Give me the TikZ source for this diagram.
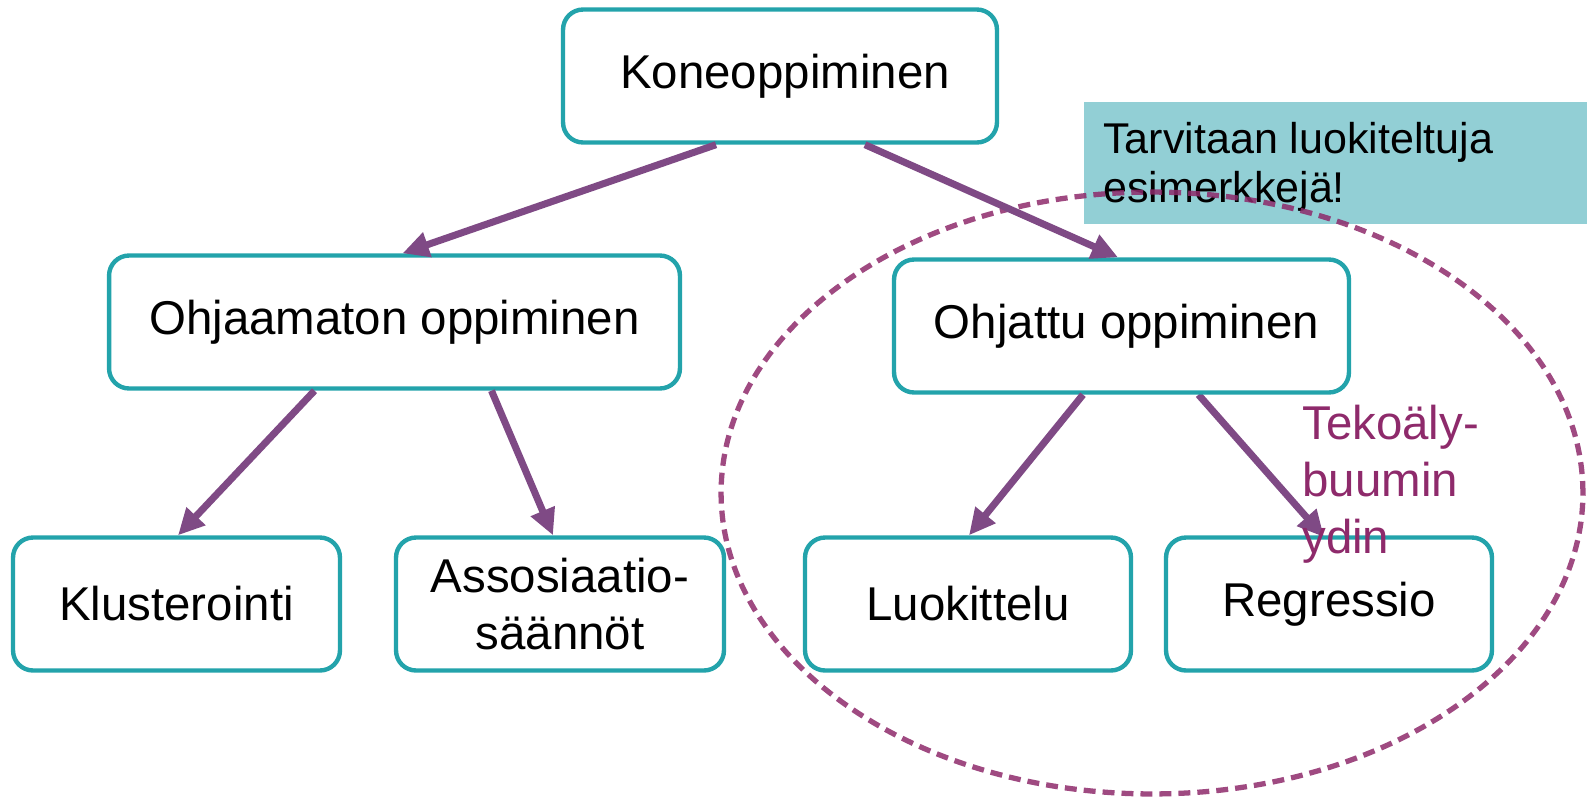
\documentclass[tikz,border=0pt]{standalone}
\usepackage{fontspec}
\setmainfont{Liberation Sans}
\usetikzlibrary{arrows.meta}
\definecolor{boxteal}{HTML}{23A3AB}
\definecolor{notefill}{HTML}{92CFD5}
\definecolor{arrowpurple}{HTML}{7F4A85}
\definecolor{ringpurple}{HTML}{8E2A6B}
\pgfdeclarelayer{under}
\pgfsetlayers{under,main}
\begin{document}
\begin{tikzpicture}[x=0.02cm, y=-0.02cm,
  box/.style={draw=boxteal, line width=2.5pt, rounded corners=0.4cm, fill=white, align=center,
    minimum height=2.66cm, inner sep=0pt, font=\fontsize{27}{32}\selectfont},
  link/.style={draw=arrowpurple, line width=4pt, -{Triangle[length=15pt, width=14pt]}}]

\useasboundingbox (0,0) rectangle (1587,799);

\node [anchor=north west, fill=notefill, minimum width=10.06cm, minimum height=2.44cm, inner sep=0pt] (note) at (1084,102) {};
\node [anchor=north west, align=left, text=black, inner sep=0pt, font=\fontsize{24.5}{28}\selectfont] (notetext) at (1103,122) {Tarvitaan luokiteltuja\\esimerkkejä!};

\draw [ringpurple, line width=3pt, dash pattern=on 6.8pt off 4pt, opacity=.85] (1152,493) ellipse [x radius=8.62cm, y radius=6.02cm];

\node [box, minimum width=8.68cm] (kone) at (780,76) {\hspace{0.2cm}Koneoppiminen};
\node [box, minimum width=11.42cm] (unsup) at (394.5,322) {Ohjaamaton oppiminen};
\node [box, minimum width=9.1cm] (sup) at (1121.5,326) {\hspace{0.2cm}Ohjattu oppiminen};
\node [box, minimum width=6.54cm] (klus) at (176.5,604) {Klusterointi};
\node [box, minimum width=6.56cm] (asso) at (560,604) {Assosiaatio-\\säännöt};
\node [box, minimum width=6.52cm] (luok) at (968,604) {Luokittelu};
\node [box, minimum width=6.52cm] (regr) at (1329,604) {Regressio};

\draw [link] ([xshift=-1.28cm]kone.south) -- ([xshift=0.16cm]unsup.north);
\draw [link] ([xshift=1.7cm]kone.south) -- ([xshift=-0.07cm]sup.north);
\draw [link] ([xshift=-1.6cm]unsup.south) -- ([xshift=0.03cm]klus.north);
\draw [link] ([xshift=1.94cm]unsup.south) -- ([xshift=-0.14cm]asso.north);
\draw [link] ([xshift=-0.77cm]sup.south) -- ([xshift=0.02cm]luok.north);
\begin{pgfonlayer}{under}
\draw [link] ([xshift=1.54cm]sup.south) -- ([xshift=-0.1cm,yshift=-1pt]regr.north);
\end{pgfonlayer}

\node [anchor=north west, align=left, text=ringpurple, inner sep=0pt, font=\fontsize{27}{32.4}\selectfont] (core) at (1302,405) {Tekoäly-\\buumin\\ydin};

\end{tikzpicture}
\end{document}
